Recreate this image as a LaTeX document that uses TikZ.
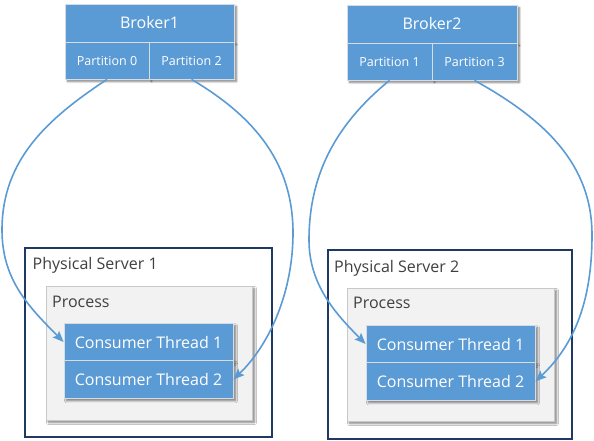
\documentclass[tikz,border=0pt]{standalone}
\usepackage{fontspec}
\setmainfont{Open Sans}
\usetikzlibrary{arrows.meta,shadows.blur}
\definecolor{kblue}{HTML}{5B9BD5}
\definecolor{boxline}{HTML}{D6DCE4}
\definecolor{navy}{HTML}{1F3864}
\definecolor{procfill}{HTML}{F2F2F2}
\definecolor{procline}{HTML}{C8C8C8}
\definecolor{lbltext}{HTML}{404040}
\tikzset{
  softshadow/.style={blur shadow={shadow xshift=2.5pt, shadow yshift=-2.5pt, shadow blur steps=6, shadow blur radius=2pt, shadow opacity=50}},
  bluebox/.style={draw=boxline, line width=0.8pt, fill=kblue, text=white, inner sep=0pt, softshadow},
  brokerbox/.style={bluebox, minimum width=169pt, minimum height=38pt, font=\fontsize{16}{18}\selectfont},
  partbox/.style={bluebox, minimum width=85pt, minimum height=37pt, font=\fontsize{12.5}{14}\selectfont},
  threadbox/.style={bluebox, minimum width=169pt, minimum height=37.5pt, font=\fontsize{16}{18}\selectfont},
  serverbox/.style={draw=navy, line width=1.7pt, fill=white, inner sep=0pt},
  procbox/.style={draw=procline, line width=0.9pt, fill=procfill, inner sep=0pt, softshadow},
  lbl/.style={anchor=west, text=lbltext, inner sep=0pt, font=\fontsize{16}{18}\selectfont},
  link/.style={draw=kblue, line width=1.6pt, -{Stealth[length=11pt,width=9pt,inset=2pt]}}
}
\begin{document}
\begin{tikzpicture}[x=1pt,y=-1pt]
\useasboundingbox (0,0) rectangle (594,441);
% servers
\node[serverbox, minimum width=247pt, minimum height=189pt] (s1) at (148.5,342.5) {};
\node[serverbox, minimum width=244pt, minimum height=189pt] (s2) at (450,344.5) {};
\node[lbl] (s1lbl) at (32.5,265) {Physical Server 1};
\node[lbl] (s2lbl) at (334,268) {Physical Server 2};
% processes
\node[procbox, minimum width=206pt, minimum height=134pt] (pr1) at (149,353) {};
\node[procbox, minimum width=207pt, minimum height=133pt] (pr2) at (450.5,354.5) {};
\node[lbl] (pr1lbl) at (52,302) {Process};
\node[lbl] (pr2lbl) at (353,303) {Process};
% threads
\node[threadbox] (t11) at (148.5,342) {Consumer Thread 1};
\node[threadbox] (t12) at (148.5,379.5) {Consumer Thread 2};
\node[threadbox] (t21) at (450.5,344) {Consumer Thread 1};
\node[threadbox] (t22) at (450.5,381.5) {Consumer Thread 2};
% brokers
\node[brokerbox] (b1) at (149.5,23) {Broker1};
\node[partbox, minimum width=84pt] (p0) at (107,60.5) {Partition 0};
\node[partbox] (p2) at (191.5,60.5) {Partition 2};
\node[brokerbox, minimum width=170pt] (b2) at (432,24) {Broker2};
\node[partbox] (p1) at (389.5,61.5) {Partition 1};
\node[partbox] (p3) at (474.5,61.5) {Partition 3};
% turning points
\coordinate (m1) at (2,230);
\coordinate (m2) at (293,233);
\coordinate (m3) at (309,240);
\coordinate (m4) at (592,235);
% connectors
\draw[link] (p0.south) .. controls (47,119) and (2,160) .. (m1)
  .. controls (2,280) and (29,307) .. (t11.west);
\draw[link] (p2.south) .. controls (257,118) and (293,165) .. (m2)
  .. controls (293,290) and (271,343) .. (t12.east);
\draw[link] (p1.south) .. controls (340,121) and (309,170) .. (m3)
  .. controls (309,285) and (336,314) .. (t21.west);
\draw[link] (p3.south) .. controls (546,120) and (592,165) .. (m4)
  .. controls (592,300) and (575,344) .. (t22.east);
\end{tikzpicture}
\end{document}
